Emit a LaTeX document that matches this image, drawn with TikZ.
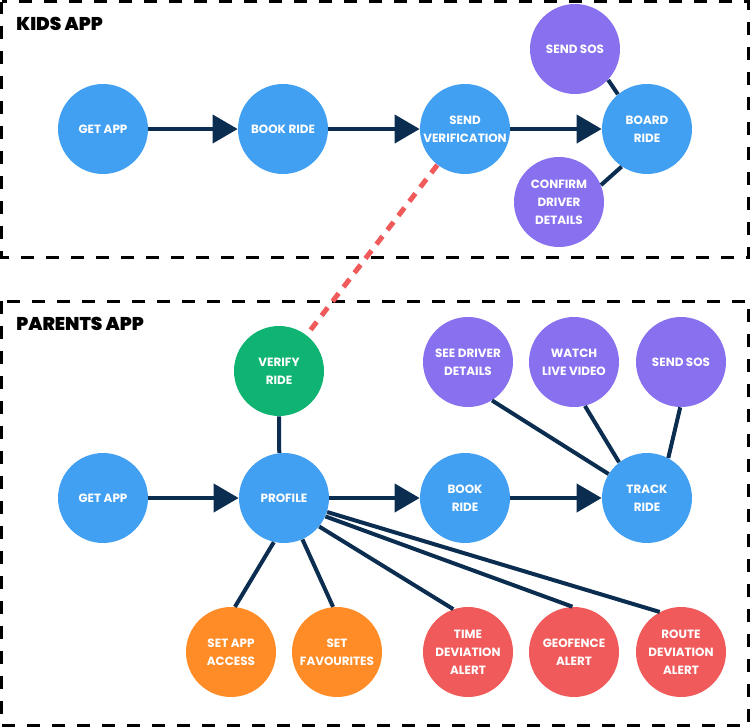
\documentclass[tikz,border=0pt]{standalone}
\usepackage{fontspec}
\setmainfont{Poppins}
\newfontfamily\heavyfont{Poppins Black}
\usepackage{xcolor}
\usetikzlibrary{arrows.meta}
\definecolor{navy}{HTML}{0B2D50}
\definecolor{appblue}{HTML}{42A0F2}
\definecolor{lilac}{HTML}{8870EF}
\definecolor{okgreen}{HTML}{10B472}
\definecolor{tangerine}{HTML}{FF8C27}
\definecolor{alertred}{HTML}{F05A5A}

\begin{document}
\begin{tikzpicture}[x=0.02cm,y=-0.02cm,
bubble/.style={circle,minimum size=1.8cm,inner sep=0pt,text=white,align=center,font=\bfseries\fontsize{6.8}{10.2}\selectfont},
flow/.style={-{Triangle[length=0.5cm,width=0.56cm]},line width=0.08cm,draw=navy},
link/.style={line width=0.08cm,draw=navy},
frame/.style={draw=black,line width=0.06cm,dash pattern=on 0.26cm off 0.24cm},
title/.style={anchor=north west,inner sep=0pt,font=\heavyfont\fontsize{10.5}{12}\selectfont}]
\useasboundingbox(0,0)rectangle(750,727);
\draw[frame](1.5,1.5)rectangle(748.5,257);
\draw[frame](1.5,301)rectangle(748.5,725.5);
\node[title](kidstitle)at(16,17){KIDS APP};
\node[title](parentstitle)at(16,317){PARENTS APP};
% kids app
\node[bubble,fill=appblue](kget)at(103,129){GET APP};
\node[bubble,fill=appblue](kbook)at(283,129){BOOK RIDE};
\node[bubble,fill=appblue](ksend)at(465,129){SEND\\VERIFICATION};
\node[bubble,fill=appblue](kboard)at(647,129){BOARD\\RIDE};
\node[bubble,fill=lilac](ksos)at(575,49){SEND SOS};
\node[bubble,fill=lilac](kconfirm)at(559,202){CONFIRM\\DRIVER\\DETAILS};
\draw[flow](kget)--(kbook);
\draw[flow](kbook)--(ksend);
\draw[flow](ksend)--(kboard);
\draw[link](ksos.-43)--(kboard.130);
\draw[link](kconfirm.22)--(kboard.-124);
% parents app
\node[bubble,fill=okgreen](pverify)at(279,371){VERIFY\\RIDE};
\node[bubble,fill=appblue](pget)at(103,498){GET APP};
\node[bubble,fill=appblue](pprofile)at(284,498){PROFILE};
\node[bubble,fill=appblue](pbook)at(465,498){BOOK\\RIDE};
\node[bubble,fill=appblue](ptrack)at(647,498){TRACK\\RIDE};
\node[bubble,fill=lilac](pdriver)at(468,362){SEE DRIVER\\DETAILS};
\node[bubble,fill=lilac](pvideo)at(574,362){WATCH\\LIVE VIDEO};
\node[bubble,fill=lilac](psos)at(681,362){SEND SOS};
\node[bubble,fill=tangerine](paccess)at(231,652){SET APP\\ACCESS};
\node[bubble,fill=tangerine](pfav)at(337,652){SET\\FAVOURITES};
\node[bubble,fill=alertred](ptime)at(468,652){TIME\\DEVIATION\\ALERT};
\node[bubble,fill=alertred](pgeo)at(574,652){GEOFENCE\\ALERT};
\node[bubble,fill=alertred](proute)at(681,652){ROUTE\\DEVIATION\\ALERT};
\draw[flow](pget)--(pprofile);
\draw[flow](pprofile)--(pbook);
\draw[flow](pbook)--(ptrack);
\draw[link](pverify.south)--(pprofile.96);
\draw[link](pdriver.-58)--(ptrack.148);
\draw[link](pvideo.-76)--(ptrack.128);
\draw[link](psos.-91)--(ptrack.62);
\draw[link](pprofile.-103)--(paccess.85);
\draw[link](pprofile.-66)--(pfav.95);
\draw[link](pprofile.-39)--(ptime.109);
\draw[link](pprofile.-24)--(pgeo.92);
\draw[link](pprofile.-18)--(proute.118);
% verification link between the apps
\draw[line width=0.1cm,dash pattern=on 0.2cm off 0.16cm,draw=alertred](ksend)--(pverify);
\end{tikzpicture}
\end{document}
